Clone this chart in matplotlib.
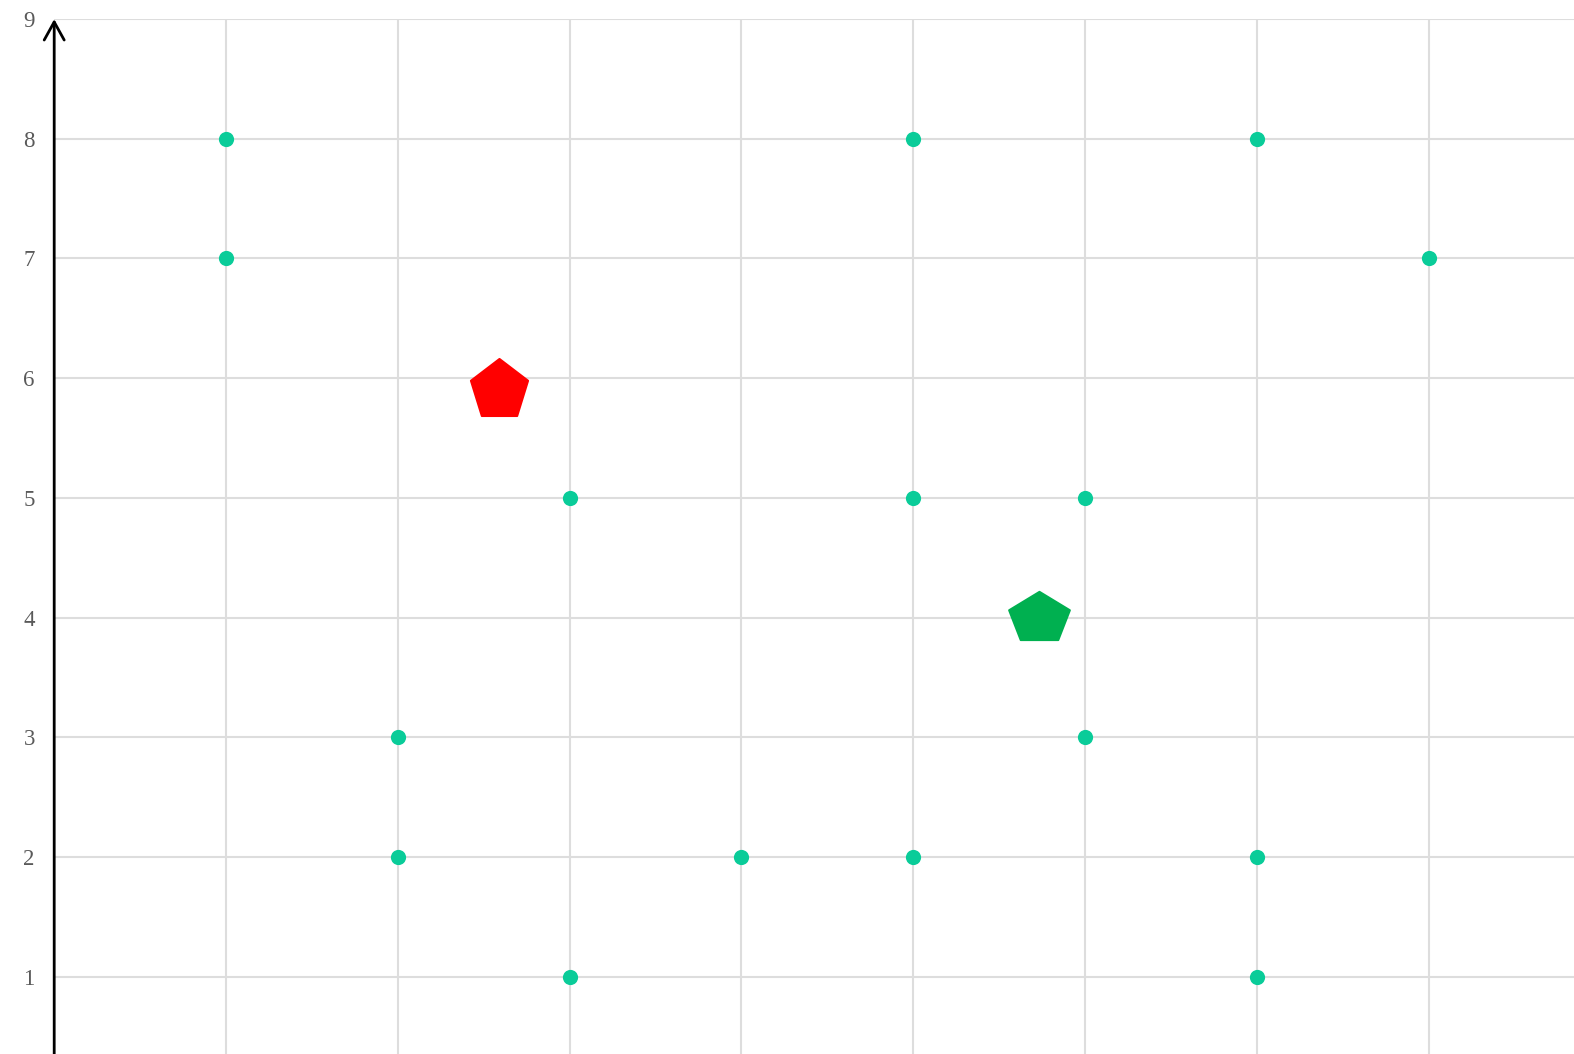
import numpy as np
import matplotlib.pyplot as plt
from matplotlib.path import Path

# sample points
point_x = [1, 1, 5, 7, 8, 3, 5, 6, 2, 6, 2, 4, 5, 7, 3, 7]
point_y = [8, 7, 8, 8, 7, 5, 5, 5, 3, 3, 2, 2, 2, 2, 1, 1]

# cluster centres
centre_x = [2.59, 5.73]
centre_y = [5.90, 4.00]
centre_colors = ["#ff0000", "#00b050"]

y_ticks = [1, 2, 3, 4, 5, 6, 7, 8, 9]
x_ticks = [1, 2, 3, 4, 5, 6, 7, 8]


def pentagon(sx=1.0, sy=1.0):
    ang = np.pi / 2 + np.arange(5) * 2 * np.pi / 5
    verts = np.column_stack([np.cos(ang) * sx, np.sin(ang) * sy])
    verts = np.vstack([verts, verts[:1]])
    codes = [Path.MOVETO] + [Path.LINETO] * 4 + [Path.CLOSEPOLY]
    return Path(verts, codes)


fig = plt.figure(figsize=(15.74, 10.54), dpi=100)
ax = fig.add_axes([54.2 / 1574, 0, 1 - 54.2 / 1574, 1 - 19.1 / 1054])
ax.set_xlim(0, 8.846)
ax.set_ylim(0.354, 9)

ax.set_xticks(x_ticks)
ax.set_yticks(y_ticks)
ax.grid(True, color="#dddddd", linewidth=1.5)
ax.set_axisbelow(True)
ax.tick_params(axis="x", length=0, labelbottom=False)
ax.tick_params(axis="y", length=0, pad=14, labelsize=16.5, labelcolor="#5a5a5a")
for lab in ax.get_yticklabels():
    lab.set_family("Liberation Serif")
for side in ["top", "right", "bottom", "left"]:
    ax.spines[side].set_visible(False)

# y axis with arrow
ax.annotate("", xy=(0, 9), xytext=(0, 0.354),
            xycoords="data", textcoords="data",
            arrowprops=dict(arrowstyle="->,head_length=1.3,head_width=0.72",
                            color="black", lw=2, shrinkA=0, shrinkB=0),
            annotation_clip=False)

ax.scatter(point_x, point_y, s=120, color="#0acc99", zorder=3, linewidths=0)

shapes = [pentagon(1.0, 1.05), pentagon(1.0, 0.835)]
sizes = [2060, 1910]
for x, y, c, m, s in zip(centre_x, centre_y, centre_colors, shapes, sizes):
    ax.scatter([x], [y], s=s, marker=m, color=c, edgecolors=c,
               linewidths=1.5, zorder=4)

fig.savefig("out.png", dpi=100)
